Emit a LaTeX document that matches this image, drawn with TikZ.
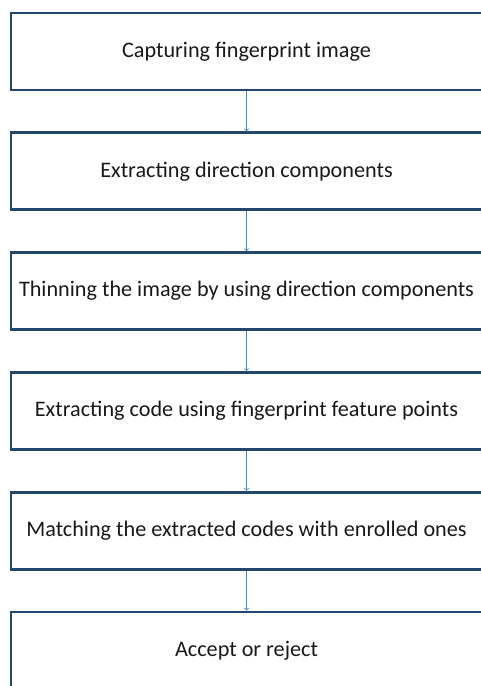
\documentclass[tikz,border=0pt]{standalone}
\usepackage{fontspec}
\setmainfont{Carlito}
\usepackage{xcolor}
\definecolor{boxline}{HTML}{25466C}
\definecolor{arrowline}{HTML}{5E89B6}

\begin{document}
\begin{tikzpicture}[x=1pt,y=-1pt,
  stage/.style={draw=boxline,line width=2.8pt,minimum width=471pt,minimum height=77pt,
    inner sep=0pt,text=black!90,font=\fontsize{22.2}{26}\selectfont},
  flow/.style={draw=arrowline,line width=0.9pt,->}]
\useasboundingbox (0,0) rectangle (481,686);
\node[stage] (capture) at (246.5,51.5) {Capturing fingerprint image};
\node[stage] (direction) at (246.5,171.3) {Extracting direction components};
\node[stage] (thinning) at (246.5,291.1) {Thinning the image by using direction components};
\node[stage] (code) at (246.5,410.9) {Extracting code using fingerprint feature points};
\node[stage] (matching) at (246.5,530.7) {Matching the extracted codes with enrolled ones};
\node[stage] (decision) at (246.5,650.5) {Accept or reject};
\draw[flow] (capture) -- (direction);
\draw[flow] (direction) -- (thinning);
\draw[flow] (thinning) -- (code);
\draw[flow] (code) -- (matching);
\draw[flow] (matching) -- (decision);
\end{tikzpicture}
\end{document}
